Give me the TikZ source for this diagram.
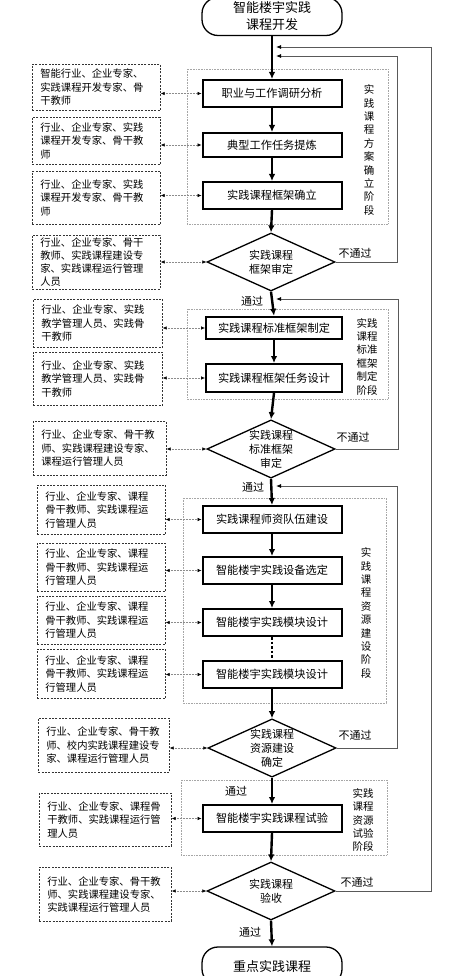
\documentclass[tikz,border=0pt]{standalone}
\usepackage{fontspec}
\setmainfont{Noto Sans CJK SC}
\usetikzlibrary{shapes.geometric,arrows.meta}
\tikzset{
  mainbox/.style={draw,line width=2pt,minimum width=139pt,minimum height=27pt,inner sep=0pt,
    font=\fontsize{11.2}{13}\selectfont},
  decision/.style={diamond,draw,line width=1.3pt,aspect=2.2,inner sep=0pt,minimum width=128pt,
    minimum height=58pt,align=center,font=\fontsize{11}{14}\selectfont},
  terminal/.style={draw,line width=1.3pt,rounded corners=16pt,minimum width=140pt,minimum height=38pt,
    align=center,font=\fontsize{13}{17}\selectfont},
  sidebox/.style={draw=black!80,line width=0.7pt,dash pattern=on 2pt off 1.3pt,anchor=north west,
    inner xsep=8pt,inner ysep=2pt,text width=#1,align=left,font=\fontsize{10.3}{13.3}\selectfont},
  sidebox/.default=112pt,
  stage/.style={draw=black!35,line width=0.6pt,densely dotted},
  stagelbl/.style={align=center,inner sep=0pt,font=\fontsize{10.5}{13.4}\selectfont},
  lbl/.style={inner sep=0pt,font=\fontsize{11}{13}\selectfont},
  flow/.style={line width=2.4pt,-{Latex[length=7pt,width=6.5pt]}},
  link/.style={black!45,line width=0.5pt,densely dotted,
    {Latex[black,length=4pt,width=3.5pt]}-{Latex[black,length=4pt,width=3.5pt]}},
  back/.style={black!65,line width=0.8pt,-{Latex[black,length=5pt,width=4pt]}},
}
\begin{document}
\begin{tikzpicture}[x=1pt,y=-1pt]
\useasboundingbox (0,0) rectangle (449,976);
% stage regions
\draw[stage] (187,69) rectangle (388,224);
\draw[stage] (187,309) rectangle (388,399);
\draw[stage] (183,498) rectangle (386,703);
\draw[stage] (181,780) rectangle (387,855);
% main column
\node[terminal] (start) at (272,16.5) {智能楼宇实践\\课程开发};
\node[mainbox] (b1) at (272,93.5) {职业与工作调研分析};
\node[mainbox,minimum height=24pt] (b2) at (272,145) {典型工作任务提炼};
\node[mainbox] (b3) at (272,195.5) {实践课程框架确立};
\node[decision] (d1) at (271,262) {实践课程\\框架审定};
\node[mainbox,minimum width=136pt,minimum height=22.5pt] (b5) at (274,328) {实践课程标准框架制定};
\node[mainbox,minimum width=136pt,minimum height=28pt] (b6) at (274,378) {实践课程框架任务设计};
\node[decision] (d2) at (271,449) {实践课程\\标准框架\\审定};
\node[mainbox] (b8) at (272,519.5) {实践课程师资队伍建设};
\node[mainbox] (b9) at (272,570.5) {智能楼宇实践设备选定};
\node[mainbox] (b10) at (272,622.5) {智能楼宇实践模块设计};
\node[mainbox] (b11) at (272,674.5) {智能楼宇实践模块设计};
\node[decision] (d3) at (272,748) {实践课程\\资源建设\\确定};
\node[mainbox] (b13) at (272,818.5) {智能楼宇实践课程试验};
\node[decision] (d4) at (271,891) {实践课程\\验收};
\node[terminal] (finish) at (272,966) {重点实践课程};
% people boxes
\node[sidebox,minimum height=46pt] (s1) at (32,64) {智能行业、企业专家、\\实践课程开发专家、骨\\干教师};
\node[sidebox,minimum height=47pt] (s2) at (32,117) {行业、企业专家、实践\\课程开发专家、骨干教\\师};
\node[sidebox,minimum height=53pt] (s3) at (32,171) {行业、企业专家、实践\\课程开发专家、骨干教\\师};
\node[sidebox,minimum height=52pt] (s4) at (32,235) {行业、企业专家、骨干\\教师、实践课程建设专\\家、实践课程运行管理\\人员};
\node[sidebox=113pt,minimum height=48pt] (s5) at (33,299) {行业、企业专家、实践\\教学管理人员、实践骨\\干教师};
\node[sidebox=113pt,minimum height=53pt] (s6) at (33,352) {行业、企业专家、实践\\教学管理人员、实践骨\\干教师};
\node[sidebox=117pt,minimum height=54pt] (s7) at (33,421) {行业、企业专家、骨干教\\师、实践课程建设专家、\\课程运行管理人员};
\node[sidebox,minimum height=49pt] (s8) at (37,485) {行业、企业专家、课程\\骨干教师、实践课程运\\行管理人员};
\node[sidebox,minimum height=48pt] (s9) at (37,543) {行业、企业专家、课程\\骨干教师、实践课程运\\行管理人员};
\node[sidebox,minimum height=48pt] (s10) at (37,596) {行业、企业专家、课程\\骨干教师、实践课程运\\行管理人员};
\node[sidebox,minimum height=49pt] (s11) at (37,649) {行业、企业专家、课程\\骨干教师、实践课程运\\行管理人员};
\node[sidebox=115pt,minimum height=54pt] (s12) at (38,718) {行业、企业专家、骨干教\\师、校内实践课程建设专\\家、课程运行管理人员};
\node[sidebox=116pt,minimum height=53pt] (s13) at (39,793) {行业、企业专家、课程骨\\干教师、实践课程运行管\\理人员};
\node[sidebox=116pt,minimum height=54pt] (s14) at (39,867) {行业、企业专家、骨干教\\师、实践课程建设专家、\\实践课程运行管理人员};
% stage labels
\node[stagelbl] (t1) at (369,150) {实\\践\\课\\程\\方\\案\\确\\立\\阶\\段};
\node[stagelbl] (t2) at (367,356.5) {实践\\课程\\标准\\框架\\制定\\阶段};
\node[stagelbl] (t3) at (366,613) {实\\践\\课\\程\\资\\源\\建\\设\\阶\\段};
\node[stagelbl] (t4) at (363,820) {实践\\课程\\资源\\试验\\阶段};
% flow arrows
\foreach \a/\b in {start/b1,b1/b2,b2/b3,b3/d1,d1/b5,b5/b6,b6/d2,d2/b8,b8/b9,b9/b10,b11/d3,d3/b13,b13/d4,d4/finish}
\draw[flow] (\a.south) -- (\b.north);
\draw[line width=2.4pt,dash pattern=on 2.5pt off 2pt] (b10.south) -- (b11.north);
% people links
\foreach \s/\b in {s1/b1,s2/b2,s3/b3,s4/d1,s5/b5,s6/b6,s7/d2,s8/b8,s9/b9,s10/b10,s11/b11,s12/d3,s13/b13,s14/d4}
\draw[link] (\s.east |- \b.west) -- (\b.west);
% feedback
\coordinate (r1) at (276,56);
\coordinate (r2) at (276,299);
\coordinate (r3) at (276,486);
\coordinate (r4) at (276,47);
\draw[back] (d1.east) -- ++(62,0) |- (r1);
\draw[back] (d2.east) -- ++(63,0) |- (r2);
\draw[back] (d3.east) -- ++(61,0) |- (r3);
\draw[back] (d4.east) -- ++(96,0) |- (r4);
\node[lbl] (n1) at (355,253) {不通过};
\node[lbl] (n2) at (353,437) {不通过};
\node[lbl] (n3) at (355,735) {不通过};
\node[lbl] (n4) at (357,882) {不通过};
\node[lbl] (p1) at (252,301) {通过};
\node[lbl] (p2) at (253,487) {通过};
\node[lbl] (p3) at (236,791) {通过};
\node[lbl] (p4) at (250,932) {通过};
\end{tikzpicture}
\end{document}
